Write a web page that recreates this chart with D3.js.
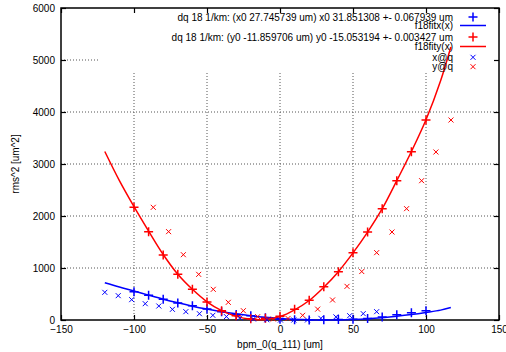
<!DOCTYPE html>
<html><head><meta charset="utf-8">
<script src="https://cdn.jsdelivr.net/npm/d3@7"></script>
<style>
html,body{margin:0;padding:0;background:#fff;}
svg text{font-family:"Liberation Sans",Arial,Helvetica,sans-serif;}
</style></head>
<body><svg id="c" width="506" height="352"></svg>
<script>
// ---- data ----
const xTicks = [-150, -100, -50, 0, 50, 100, 150];
const yTicks = [0, 1000, 2000, 3000, 4000, 5000, 6000];

// dq 18 1/km x-fit data (blue +)
const xfitX = [-100,-90,-80,-70,-60,-50,-40,-30,-20,-10,0,10,20,30,40,50,60,70,80,90,100];
const xfitY = [545,475,398,325,272,210,160,105,80,45,15,3,2,3,8,15,30,60,100,140,180];

// dq 18 1/km y-fit data (red +)
const yfitX = [-100,-90,-80,-70,-60,-50,-40,-30,-20,-10,0,10,20,30,40,50,60,70,80,90,100];
const yfitY = [2167,1699,1250,878,590,346,179,83,25,33,70,206,380,641,929,1295,1692,2141,2679,3237,3846];

// f18fitx(x) curve samples (blue line)
const fitxX = [-120,-110,-100,-90,-80,-70,-60,-50,-40,-30,-20,-10,0,10,20,30,40,50,60,70,80,90,100,110,117];
const fitxY = [718,635,558,478,400,330,266,210,160,118,82,52,30,14,4,0,2,10,24,45,72,105,145,190,240];

// f18fity(x) curve samples (red line)
const fityX = [-120,-110,-100,-90,-80,-70,-60,-50,-40,-30,-20,-10,0,10,20,30,40,50,60,70,80,90,100,110,117];
const fityY = [3240,2680,2180,1710,1260,880,590,350,180,70,15,10,65,195,375,630,930,1290,1690,2140,2680,3240,3850,4600,5250];

// x@q (blue x)
const xqX = [-120,-110.8,-101.6,-92.3,-83,-73.7,-64.5,-55.2,-46,-36.7,-27.5,-18.2,-9,0.3,9.5,18.8,28,38.3,47.7,57,66.2];
const xqY = [532,468,391,314,269,205,160,121,90,65,40,19,5,0,0,0,32,60,83,122,160];

// y@q (red x)
const yqX = [-86.8,-76.3,-66.2,-55.7,-45.7,-35.4,-25.1,-15.3,-4.6,5.5,15.5,25.8,36,45.9,56,66.2,76.7,86.7,97,106.8,117.1];
const yqY = [2167,1699,1256,878,590,340,179,64,19,30,90,209,385,647,932,1295,1692,2141,2679,3231,3846];

const legendLabels = [
  "dq 18 1/km: (x0 27.745739 um) x0 31.851308 +- 0.067939 um",
  "f18fitx(x)",
  "dq 18 1/km: (y0 -11.859706 um) y0 -15.053194 +- 0.003427 um",
  "f18fity(x)",
  "x@q",
  "y@q"
];

// ---- layout ----
const L = 61, R = 499, T = 8, B = 320;
const BLUE = "#0000ff", RED = "#ff0000";
const svg = d3.select("#c");
const x = d3.scaleLinear().domain([-150, 150]).range([L, R]);
const y = d3.scaleLinear().domain([0, 6000]).range([B, T]);

// grid
const grid = svg.append("g").attr("stroke", "#555").attr("stroke-dasharray", "1,2").attr("stroke-width", 1);
xTicks.filter(v => v > -150 && v < 150).forEach(v => {
  grid.append("line").attr("x1", x(v)).attr("x2", x(v)).attr("y1", B).attr("y2", T);
});
yTicks.filter(v => v > 0 && v < 6000).forEach(v => {
  grid.append("line").attr("x1", L).attr("x2", R).attr("y1", y(v)).attr("y2", y(v));
});
// key box clears the grid
svg.append("rect").attr("x", 100).attr("y", T + 1).attr("width", R - 100 - 1).attr("height", 71 - T - 1).attr("fill", "#fff");

// axes (ticks inward, mirrored)
const fmt = d3.format("d");
const ax = svg.append("g");
ax.append("g").attr("transform", `translate(0,${B})`)
  .call(d3.axisBottom(x).tickValues(xTicks).tickFormat(fmt).tickSizeInner(-5).tickSizeOuter(0).tickPadding(6));
ax.append("g").attr("transform", `translate(0,${T})`)
  .call(d3.axisTop(x).tickValues(xTicks).tickSizeInner(-5).tickSizeOuter(0).tickFormat(""));
ax.append("g").attr("transform", `translate(${L},0)`)
  .call(d3.axisLeft(y).tickValues(yTicks).tickFormat(fmt).tickSizeInner(-5).tickSizeOuter(0).tickPadding(6));
ax.append("g").attr("transform", `translate(${R},0)`)
  .call(d3.axisRight(y).tickValues(yTicks).tickSizeInner(-5).tickSizeOuter(0).tickFormat(""));
ax.selectAll(".domain").remove();
ax.selectAll("line").attr("stroke", "#000").attr("stroke-width", 1.2);
ax.selectAll("text").attr("font-size", 10).attr("fill", "#000")
  .attr("font-family", '"Liberation Sans",Arial,sans-serif');
svg.append("rect").attr("x", L).attr("y", T).attr("width", R - L).attr("height", B - T)
  .attr("fill", "none").attr("stroke", "#000").attr("stroke-width", 1.5);

// axis labels
svg.append("text").attr("x", (L + R) / 2).attr("y", 348).attr("text-anchor", "middle")
  .attr("font-size", 10).text("bpm_0(q_111) [um]");
svg.append("text").attr("transform", `translate(19,${(T + B) / 2}) rotate(-90)`)
  .attr("text-anchor", "middle").attr("font-size", 10).text("rms^2 [um^2]");

// markers
function plus(g, px, py, color, s) {
  g.append("path").attr("d", `M${px - s},${py}H${px + s}M${px},${py - s}V${py + s}`)
    .attr("stroke", color).attr("stroke-width", 1.5).attr("fill", "none");
}
function cross(g, px, py, color, s) {
  g.append("path").attr("d", `M${px - s},${py - s}L${px + s},${py + s}M${px - s},${py + s}L${px + s},${py - s}`)
    .attr("stroke", color).attr("stroke-width", 1).attr("fill", "none");
}
const line = d3.line().x(d => x(d[0])).y(d => y(d[1])).curve(d3.curveCatmullRom.alpha(0.5));
const plot = svg.append("g");

// legend geometry
const keyTextX = 453, keySx = 473;
const keyRowY = [17, 25.5, 37, 46.5, 57.3, 66.7];
const key = svg.append("g");
function keyText(i) {
  key.append("text").attr("x", keyTextX).attr("y", keyRowY[i] + 3.5).attr("text-anchor", "end")
    .attr("font-size", 10).text(legendLabels[i]);
}

// 1: x fit data
xfitX.forEach((v, i) => plus(plot, x(v), y(xfitY[i]), BLUE, 4.5));
keyText(0); plus(key, keySx, keyRowY[0], BLUE, 4.5);
// 2: f18fitx
plot.append("path").attr("d", line(fitxX.map((v, i) => [v, fitxY[i]])))
  .attr("fill", "none").attr("stroke", BLUE).attr("stroke-width", 1.5);
keyText(1); key.append("line").attr("x1", keySx - 13).attr("x2", keySx + 13).attr("y1", keyRowY[1]).attr("y2", keyRowY[1]).attr("stroke", BLUE).attr("stroke-width", 1.5);
// 3: y fit data
yfitX.forEach((v, i) => plus(plot, x(v), y(yfitY[i]), RED, 4.5));
keyText(2); plus(key, keySx, keyRowY[2], RED, 4.5);
// 4: f18fity
plot.append("path").attr("d", line(fityX.map((v, i) => [v, fityY[i]])))
  .attr("fill", "none").attr("stroke", RED).attr("stroke-width", 1.5);
keyText(3); key.append("line").attr("x1", keySx - 13).attr("x2", keySx + 13).attr("y1", keyRowY[3]).attr("y2", keyRowY[3]).attr("stroke", RED).attr("stroke-width", 1.5);
// 5: x@q
xqX.forEach((v, i) => cross(plot, x(v), y(xqY[i]), BLUE, 2.5));
keyText(4); cross(key, keySx, keyRowY[4], BLUE, 2.5);
// 6: y@q
yqX.forEach((v, i) => cross(plot, x(v), y(yqY[i]), RED, 2.5));
keyText(5); cross(key, keySx, keyRowY[5], RED, 2.5);
</script></body></html>
